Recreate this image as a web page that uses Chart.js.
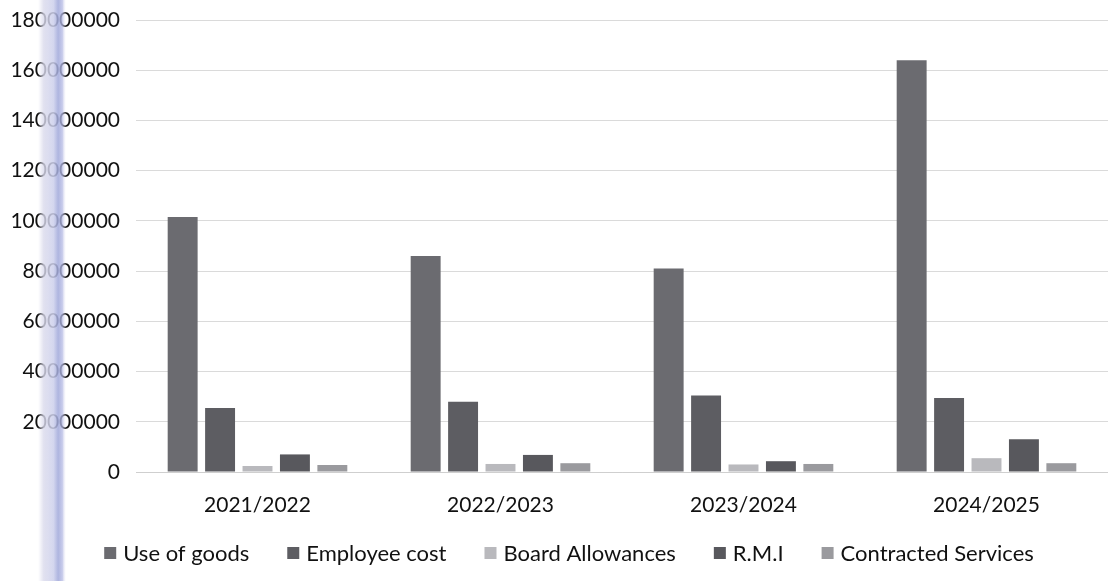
<!DOCTYPE html>
<html>
<head>
<meta charset="utf-8">
<script src="https://cdn.jsdelivr.net/npm/chart.js@4/dist/chart.umd.min.js"></script>
<style>
html,body{margin:0;padding:0;background:#fff;}
#wrap{width:1108px;height:581px;position:relative;}
</style>
</head>
<body>
<div id="wrap"><canvas id="c" width="1108" height="581"></canvas></div>
<script>
const categories = ["2021/2022", "2022/2023", "2023/2024", "2024/2025"];
const useOfGoods = [101500000, 86000000, 81000000, 164000000];
const employeeCost = [25500000, 28000000, 30500000, 29500000];
const boardAllowances = [2400000, 3200000, 3000000, 5500000];
const rmi = [7000000, 6800000, 4300000, 13000000];
const contractedServices = [2800000, 3500000, 3200000, 3500000];
const yTicks = [0, 20000000, 40000000, 60000000, 80000000, 100000000, 120000000, 140000000, 160000000, 180000000];

const FONT = 'Lato';

// Legend drawn below the x axis from the chart's own datasets
const bottomLegend = {
  id: 'bottomLegend',
  afterDraw(chart) {
    const ctx = chart.ctx;
    const ds = chart.data.datasets;
    const box = 12, boxGap = 7, itemGap = 38, cy = 553, centerX = 569;
    ctx.save();
    ctx.font = '22px ' + FONT;
    ctx.textBaseline = 'middle';
    ctx.textAlign = 'left';
    const widths = ds.map(d => box + boxGap + ctx.measureText(d.label).width);
    const total = widths.reduce((a, b) => a + b, 0) + itemGap * (ds.length - 1);
    let x = centerX - total / 2;
    ds.forEach((d, i) => {
      ctx.fillStyle = d.backgroundColor;
      ctx.fillRect(x, cy - box / 2, box, box);
      ctx.fillStyle = '#111';
      ctx.fillText(d.label, x + box + boxGap, cy + 1);
      x += widths[i] + itemGap;
    });
    ctx.restore();
  }
};

const scanBand = {
  id: 'scanBand',
  afterDraw(chart) {
    const ctx = chart.ctx;
    ctx.save();
    const g = ctx.createLinearGradient(38, 0, 66, 0);
    g.addColorStop(0, 'rgba(225,225,240,0)');
    g.addColorStop(0.2, 'rgba(218,218,236,0.8)');
    g.addColorStop(0.55, 'rgba(205,208,236,0.85)');
    g.addColorStop(0.72, 'rgba(160,168,218,0.85)');
    g.addColorStop(0.87, 'rgba(180,185,228,0.75)');
    g.addColorStop(1, 'rgba(230,230,245,0)');
    ctx.fillStyle = g;
    ctx.fillRect(38, 0, 28, 581);
    ctx.restore();
  }
};

new Chart(document.getElementById('c'), {
  type: 'bar',
  data: {
    labels: categories,
    datasets: [
      {label: 'Use of goods', data: useOfGoods, backgroundColor: '#6b6b70'},
      {label: 'Employee cost', data: employeeCost, backgroundColor: '#5d5d62'},
      {label: 'Board Allowances', data: boardAllowances, backgroundColor: '#b9b9bd'},
      {label: 'R.M.I', data: rmi, backgroundColor: '#58585d'},
      {label: 'Contracted Services', data: contractedServices, backgroundColor: '#9a9a9e'}
    ]
  },
  options: {
    responsive: false,
    animation: false,
    layout: {padding: {top: 0, right: 0, left: 0, bottom: 0}},
    datasets: {bar: {categoryPercentage: 0.77, barPercentage: 0.8}},
    plugins: {
      legend: {display: false},
      tooltip: {enabled: false}
    },
    scales: {
      x: {
        grid: {display: false, drawTicks: false},
        border: {display: true, color: '#cfcfcf'},
        ticks: {font: {family: FONT, size: 21}, color: '#111', padding: 21},
        afterFit(scale) { scale.height = 109; }
      },
      y: {
        min: 0,
        max: 180000000,
        afterBuildTicks(axis) { axis.ticks = yTicks.map(v => ({value: v})); },
        grid: {color: '#dadada', drawTicks: false},
        border: {display: false},
        ticks: {
          font: {family: FONT, size: 21},
          color: '#111',
          padding: 16,
          callback: v => String(v)
        },
        afterFit(scale) { scale.width = 136; scale.paddingTop = 20; }
      }
    }
  },
  plugins: [bottomLegend, scanBand]
});
</script>
</body>
</html>
